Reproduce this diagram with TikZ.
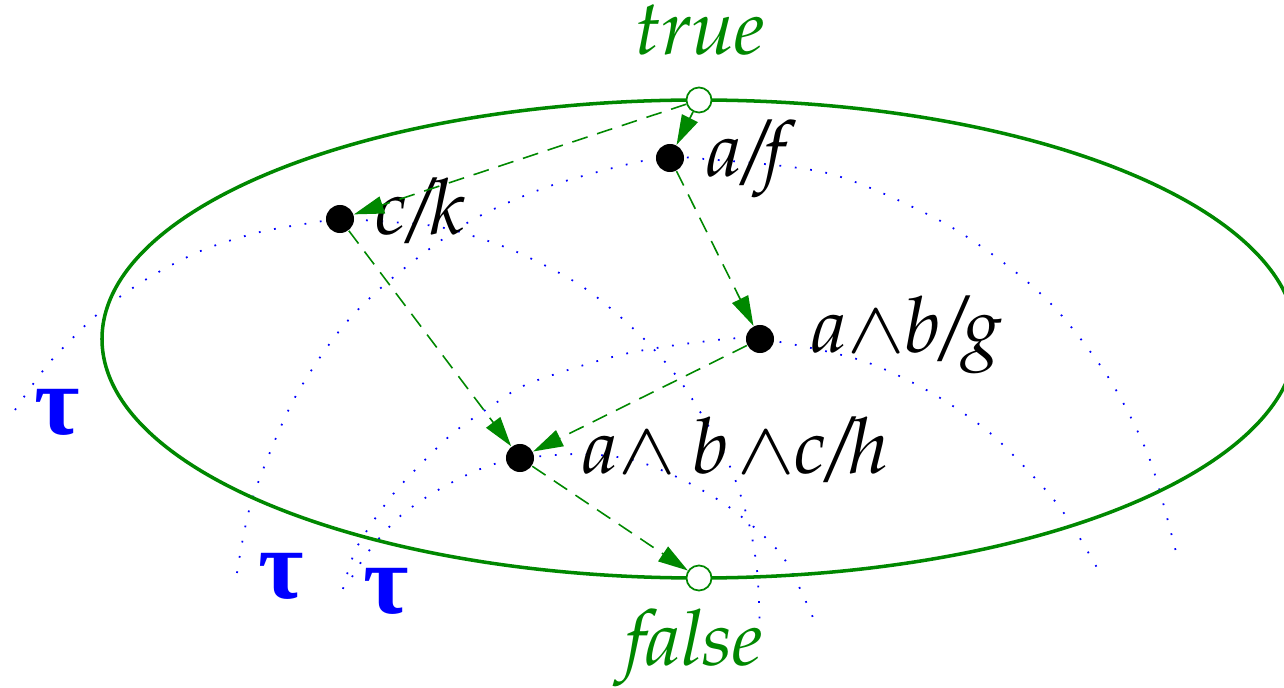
\documentclass[tikz,border=0pt]{standalone}
\usepackage{mathpazo}
\usepackage[no-math]{fontspec}
\newfontfamily\taufont{Liberation Serif}
\usetikzlibrary{arrows.meta}
\DeclareSymbolFont{cmsymbols}{OMS}{cmsy}{m}{n}
\DeclareMathSymbol{\cmwedge}{\mathord}{cmsymbols}{"5E}
\newcommand\wdg{\scalebox{1.18}[1.02]{$\cmwedge$}}
\newcommand\palit{\fontencoding{OT1}\fontfamily{pplx}\fontseries{m}\fontshape{it}\selectfont}
\definecolor{dgreen}{RGB}{0,136,0}
\tikzset{
  state/.style={circle,fill=black,inner sep=0pt,minimum size=0.28cm},
  endstate/.style={circle,draw=dgreen,fill=white,line width=0.5pt,inner sep=0pt,minimum size=0.25cm},
  lbl/.style={anchor=base west,inner sep=0pt,font=\fontsize{22}{26}\palit},
  glbl/.style={anchor=base,inner sep=0pt,text=dgreen,font=\fontsize{22}{26}\palit},
  taulbl/.style={inner sep=0pt,text=blue,font=\taufont\bfseries\fontsize{28}{32}\selectfont},
  tauarc/.style={blue,line width=0.5pt,dash pattern=on 0.5pt off 3.9pt},
  trans/.style={dgreen,line width=0.45pt,dash pattern=on 0.16cm off 0.1cm,-{Triangle[length=8.5pt,width=5pt]}},
}
\begin{document}
\begin{tikzpicture}[x=0.01cm,y=-0.01cm]
\useasboundingbox (0,0) rectangle (1284,688);
% dotted tau arcs
\draw[tauarc] plot[smooth] coordinates {(15,410) (50,362) (100,312) (150,277) (203,250) (260,232) (317,222) (340,219) (390,222) (427,225) (460,232) (517,252) (583,287) (640,335) (683,385) (727,460) (748,520) (757,570) (760,630)};
\draw[tauarc] plot[smooth] coordinates {(237,573) (252,500) (292,403) (340,330) (390,280) (467,223) (547,187) (633,163) (670,158) (693,158) (827,173) (933,217) (1000,260) (1055,308) (1110,380) (1150,460) (1178,560)};
\draw[tauarc] plot[smooth] coordinates {(343,589) (357,547) (390,498) (420,465) (453,433) (490,407) (530,383) (620,355) (700,342) (760,339) (860,360) (930,392) (990,433) (1043,487) (1070,522) (1100,573)};
\draw[tauarc] plot[smooth] coordinates {(352,577) (368,552) (398,518) (433,493) (473,472) (507,460) (520,458) (580,454) (633,460) (683,480) (733,510) (783,557) (817,627)};
% ellipse
\draw[dgreen,line width=1pt] (699,339) ellipse [x radius=597, y radius=239];
% nodes
\node[endstate] (true) at (699,100) {};
\node[endstate] (false) at (699,578) {};
\node[state] (af) at (670,158) {};
\node[state] (ck) at (340,219) {};
\node[state] (abg) at (760,339) {};
\node[state] (abch) at (520,458) {};
% labels
\node[glbl] (ltrue) at (700,55) {true};
\node[glbl] (lfalse) at (694,665) {false};
\node[lbl] (laf) at (707,177) {a/f};
\node[lbl] (lck) at (375,235) {c/k};
\node[lbl] (labg) at (812,353) {a\wdg b/g};
\node[lbl] (labch) at (583,473) {a\wdg\hspace{0.22em}b\hspace{0.12em}\wdg c/h};
\node[taulbl] (t1) at (57,412) {τ};
\node[taulbl] (t2) at (281,576) {τ};
\node[taulbl] (t3) at (386,591) {τ};
% transitions
\draw[trans] (true) -- (af);
\draw[trans] (true) -- (ck);
\draw[trans] (af) -- (abg);
\draw[trans] (ck) -- (abch);
\draw[trans] (abg) -- (abch);
\draw[trans] (abch) -- (false);
\end{tikzpicture}
\end{document}
